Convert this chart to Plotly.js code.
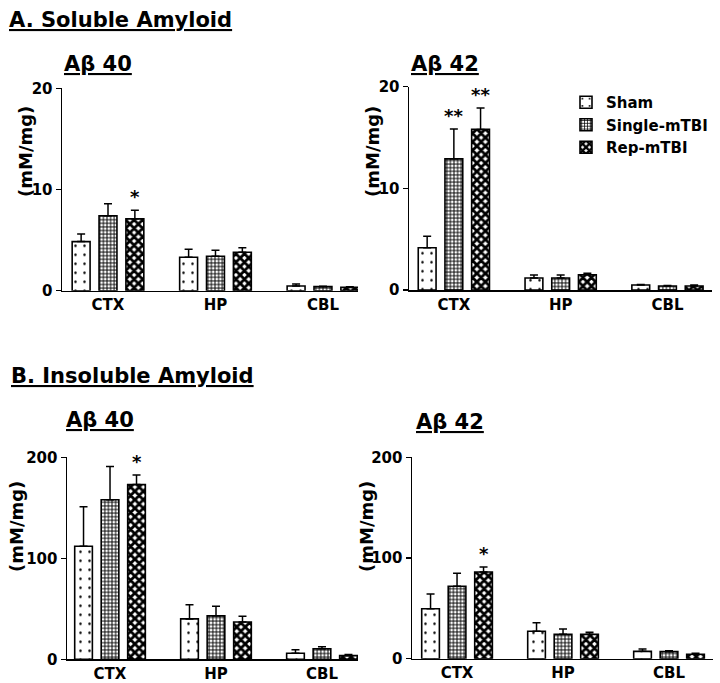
<!DOCTYPE html>
<html><head><meta charset="utf-8">
<script src="https://cdn.plot.ly/plotly-3.0.1.min.js"></script>
<style>html,body{margin:0;padding:0;background:#fff}#chart{width:720px;height:683px}</style>
</head><body><div id="chart"></div>
<script>
// ---------- data ----------
const regions = ['CTX', 'HP', 'CBL'];
const groups = ['Sham', 'Single-mTBI', 'Rep-mTBI'];

// A. Soluble amyloid, Aβ40 (mM/mg)
const solA40Sham      = [4.85, 3.3, 0.46];
const solA40Single    = [7.4, 3.4, 0.40];
const solA40Rep       = [7.1, 3.8, 0.33];
const solA40ShamErr   = [0.75, 0.8, 0.20];
const solA40SingleErr = [1.2, 0.6, 0.05];
const solA40RepErr    = [0.85, 0.45, 0.05];
const solA40Stars     = [['', '', ''], ['', '', ''], ['*', '', '']];

// A. Soluble amyloid, Aβ42 (mM/mg)
const solA42Sham      = [4.15, 1.18, 0.49];
const solA42Single    = [12.9, 1.18, 0.39];
const solA42Rep       = [15.8, 1.5, 0.40];
const solA42ShamErr   = [1.15, 0.3, 0.06];
const solA42SingleErr = [2.95, 0.3, 0.05];
const solA42RepErr    = [2.1, 0.15, 0.08];
const solA42Stars     = [['', '', ''], ['**', '', ''], ['**', '', '']];

// B. Insoluble amyloid, Aβ40 (mM/mg)
const insA40Sham      = [112, 40, 6];
const insA40Single    = [158, 43, 10.5];
const insA40Rep       = [173, 37, 3.6];
const insA40ShamErr   = [39, 14, 3.5];
const insA40SingleErr = [33, 9.5, 2];
const insA40RepErr    = [9.5, 5.5, 1.2];
const insA40Stars     = [['', '', ''], ['', '', ''], ['*', '', '']];

// B. Insoluble amyloid, Aβ42 (mM/mg)
const insA42Sham      = [49.6, 27.2, 7.3];
const insA42Single    = [71.9, 24.2, 7.0];
const insA42Rep       = [86.1, 24.2, 4.4];
const insA42ShamErr   = [14.6, 8.5, 2.3];
const insA42SingleErr = [13, 5.3, 1];
const insA42RepErr    = [5, 2, 1];
const insA42Stars     = [['', '', ''], ['', '', ''], ['*', '', '']];

const solubleTicks = [0, 10, 20];
const insolubleTicks = [0, 100, 200];

// ---------- styling ----------
const FONT = 'DejaVu Sans, Arial, sans-serif';
const patterns = [
  {shape: '.', size: 9, solidity: 0.06, bgcolor: 'white', fgcolor: 'black', fillmode: 'replace'},
  {shape: '+', size: 3.6, solidity: 0.45, bgcolor: 'white', fgcolor: 'black', fillmode: 'replace'},
  {shape: 'x', size: 6, solidity: 0.72, bgcolor: 'white', fgcolor: 'black', fillmode: 'replace'}
];

const panels = [
  {xa: 'x',  ya: 'y',  vals: [solA40Sham, solA40Single, solA40Rep], errs: [solA40ShamErr, solA40SingleErr, solA40RepErr], stars: solA40Stars, legend: false},
  {xa: 'x2', ya: 'y2', vals: [solA42Sham, solA42Single, solA42Rep], errs: [solA42ShamErr, solA42SingleErr, solA42RepErr], stars: solA42Stars, legend: true},
  {xa: 'x3', ya: 'y3', vals: [insA40Sham, insA40Single, insA40Rep], errs: [insA40ShamErr, insA40SingleErr, insA40RepErr], stars: insA40Stars, legend: false},
  {xa: 'x4', ya: 'y4', vals: [insA42Sham, insA42Single, insA42Rep], errs: [insA42ShamErr, insA42SingleErr, insA42RepErr], stars: insA42Stars, legend: false}
];

const traces = [];
const annotations = [];
const BAR_SLOT = 0.25; // (1 - bargap) / number of groups

panels.forEach(function (p) {
  groups.forEach(function (g, gi) {
    traces.push({
      type: 'bar', name: g, x: regions, y: p.vals[gi],
      xaxis: p.xa, yaxis: p.ya, showlegend: p.legend,
      marker: {color: 'white', pattern: patterns[gi], line: {color: 'black', width: 1.6}},
      error_y: {type: 'data', symmetric: false, array: p.errs[gi], arrayminus: p.vals[gi].map(function () { return 0; }),
                color: 'black', thickness: 1.5, width: 4}
    });
    p.stars[gi].forEach(function (s, ri) {
      if (!s) return;
      annotations.push({
        xref: p.xa, yref: p.ya, x: ri + (gi - 1) * BAR_SLOT, y: p.vals[gi][ri] + p.errs[gi][ri],
        text: s, showarrow: false, xanchor: 'center', yanchor: 'bottom', yshift: 1,
        font: {family: FONT, size: 18, color: 'black', weight: 'bold'}
      });
    });
  });
});

function paperText(text, x, y, size, xanchor, angle) {
  return {xref: 'paper', yref: 'paper', x: x, y: y, text: text, showarrow: false,
          xanchor: xanchor, yanchor: 'middle', textangle: angle || 0,
          font: {family: FONT, size: size, color: 'black', weight: 'bold'}};
}
const H = 683, W = 720;
annotations.push(paperText('<u>A. Soluble Amyloid</u>', 7 / W, 1 - 20 / H, 21, 'left'));
annotations.push(paperText('<u>B. Insoluble Amyloid</u>', 9 / W, 1 - 376 / H, 21, 'left'));
annotations.push(paperText('<u>Aβ 40</u>', 62 / W, 1 - 64 / H, 21, 'left'));
annotations.push(paperText('<u>Aβ 42</u>', 409 / W, 1 - 64 / H, 21, 'left'));
annotations.push(paperText('<u>Aβ 40</u>', 64 / W, 1 - 420 / H, 21, 'left'));
annotations.push(paperText('<u>Aβ 42</u>', 414 / W, 1 - 422 / H, 21, 'left'));
annotations.push(paperText('(mM/mg)', 25 / W, 1 - 152 / H, 18, 'center', -90));
annotations.push(paperText('(mM/mg)', 372 / W, 1 - 152 / H, 18, 'center', -90));
annotations.push(paperText('(mM/mg)', 16 / W, 1 - 527 / H, 18, 'center', -90));
annotations.push(paperText('(mM/mg)', 366 / W, 1 - 527 / H, 18, 'center', -90));

function xAxis(domain, range, anchor) {
  return {type: 'category', domain: domain, range: range, anchor: anchor,
          showline: true, linecolor: 'black', linewidth: 1.5, ticks: '', showgrid: false, zeroline: false,
          tickfont: {family: FONT, size: 15, color: 'black', weight: 'bold'}, fixedrange: true};
}
function yAxis(domain, ticks, anchor) {
  return {domain: domain, range: [0, ticks[ticks.length - 1]], anchor: anchor,
          tickmode: 'array', tickvals: ticks, ticktext: ticks.map(String),
          showline: true, linecolor: 'black', linewidth: 1.5, ticks: 'outside', ticklen: 5, tickwidth: 1.5,
          tickcolor: 'black', showgrid: false, zeroline: false,
          tickfont: {family: FONT, size: 15, color: 'black', weight: 'bold'}, fixedrange: true};
}

const layout = {
  width: W, height: H, margin: {l: 0, r: 0, t: 0, b: 0},
  paper_bgcolor: 'white', plot_bgcolor: 'white',
  font: {family: FONT, color: 'black', weight: 'bold'},
  barmode: 'group', bargap: 0.25, bargroupgap: 0.333,
  xaxis:  xAxis([62 / W, 358 / W], [-0.428, 2.326], 'y'),
  yaxis:  yAxis([1 - 290.7 / H, 1 - 88.3 / H], solubleTicks, 'x'),
  xaxis2: xAxis([409 / W, 712 / W], [-0.42, 2.417], 'y2'),
  yaxis2: yAxis([1 - 290 / H, 1 - 86.7 / H], solubleTicks, 'x2'),
  xaxis3: xAxis([67 / W, 358 / W], [-0.406, 2.34], 'y3'),
  yaxis3: yAxis([1 - 659.3 / H, 1 - 457.3 / H], insolubleTicks, 'x3'),
  xaxis4: xAxis([412 / W, 713 / W], [-0.425, 2.415], 'y4'),
  yaxis4: yAxis([1 - 658.7 / H, 1 - 457.3 / H], insolubleTicks, 'x4'),
  showlegend: true,
  legend: {x: 566 / W, y: 1 - 86 / H, xanchor: 'left', yanchor: 'top', bgcolor: 'rgba(0,0,0,0)',
           font: {family: FONT, size: 15, color: 'black', weight: 'bold'}, tracegroupgap: 0, itemwidth: 30},
  annotations: annotations
};

Plotly.newPlot('chart', traces, layout, {staticPlot: true, displayModeBar: false});
</script></body></html>
